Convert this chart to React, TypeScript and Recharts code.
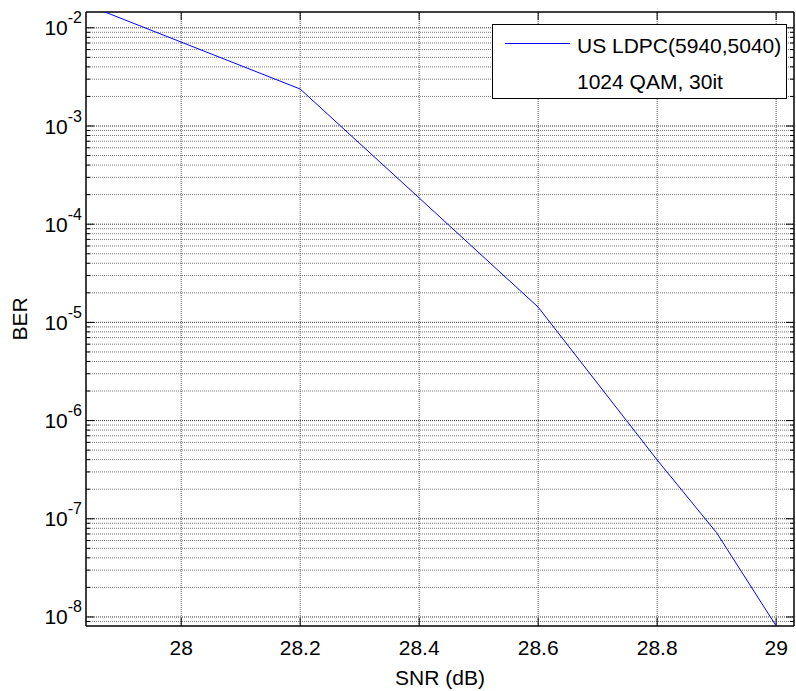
import React from "react";
import { LineChart, Line, XAxis, YAxis, ReferenceLine, Legend } from "recharts";

// BER curve, log scale
const snr = [27.8, 28.2, 28.4, 28.6, 28.8, 28.9, 29];
const ber = [2.15e-2, 2.38e-3, 1.85e-4, 1.43e-5, 3.97e-7, 7.2e-8, 8.1e-9];
const xTicks = [28, 28.2, 28.4, 28.6, 28.8, 29];
const decadeExps = [-8, -7, -6, -5, -4, -3, -2];
const minorMantissas = [2, 3, 4, 5, 6, 7, 8, 9];
const seriesName = "US LDPC(5940,5040)";
const seriesNote = "1024 QAM, 30it";
const LINE_COLOR = "#0000ff";

const FONT = '"Liberation Sans", Arial, Helvetica, sans-serif';
const W = 796;
const H = 691;
const MARGIN = { top: 12, right: 2, bottom: 0, left: 0 };
const Y_AXIS_W = 86;
const X_AXIS_H = 65;
const PLOT_W = W - MARGIN.right - Y_AXIS_W;
const PLOT_H = H - MARGIN.top - X_AXIS_H;

const X_DOMAIN: [number, number] = [27.84, 29.03];
const Y_DOMAIN: [number, number] = [8.09e-9, 1.449e-2];

const data = snr.map((s, i) => ({ snr: s, ber: ber[i] }));

const decades = decadeExps.map((e) => Math.pow(10, e));
const minors: number[] = [];
for (let e = -9; e <= -2; e++) {
  for (const m of minorMantissas) {
    const v = m * Math.pow(10, e);
    if (v > Y_DOMAIN[0] && v < Y_DOMAIN[1]) minors.push(v);
  }
}

// convert pixel lengths of the inward tick marks into data units
const xPerPx = (X_DOMAIN[1] - X_DOMAIN[0]) / PLOT_W;
const logPerPx = (Math.log10(Y_DOMAIN[1]) - Math.log10(Y_DOMAIN[0])) / PLOT_H;
const yShift = (v: number, px: number) => v * Math.pow(10, px * logPerPx);

const MAJOR_TICK = 8;
const MINOR_TICK = 4;

function PowerTick(props: any) {
  const { x, y, payload } = props;
  const exp = Math.round(Math.log10(payload.value));
  return (
    <text x={x} y={y + 7.5} textAnchor="end" fontFamily={FONT} fontSize={21} fill="#000">
      <tspan>10</tspan>
      <tspan dy={-12} fontSize={16}>{String(exp)}</tspan>
    </text>
  );
}

function LegendBox(props: any) {
  const item = props.payload && props.payload[0];
  const name = item ? item.value : seriesName;
  return (
    <svg width={296} height={76} style={{ display: "block" }}>
      <rect x={0.5} y={0.5} width={294} height={74} fill="#fff" stroke="#000" strokeWidth={1} />
      <line x1={13} y1={19.5} x2={78} y2={19.5} stroke={LINE_COLOR} strokeWidth={1} />
      <text x={85} y={29} fontFamily={FONT} fontSize={21} fill="#000">{name}</text>
      <text x={85} y={65} fontFamily={FONT} fontSize={21} fill="#000">{seriesNote}</text>
    </svg>
  );
}

export default function App() {
  const frame = { stroke: "#000", strokeWidth: 1.5 };
  const yTickMarks = [...decades.map((v) => [v, MAJOR_TICK]), ...minors.map((v) => [v, MINOR_TICK])];
  return (
    <div>
      <style>{"body{margin:0;background:#fff}"}</style>
      <LineChart width={W} height={H} data={data} margin={MARGIN}>
        <XAxis
          dataKey="snr"
          type="number"
          domain={X_DOMAIN}
          allowDataOverflow
          ticks={xTicks}
          tickFormatter={(v) => String(v)}
          height={X_AXIS_H}
          tickSize={0}
          tickLine={false}
          tickMargin={14}
          axisLine={frame}
          tick={{ fontFamily: FONT, fontSize: 21, fill: "#000" }}
          label={{
            content: (p: any) => {
              const vb = p.viewBox;
              return (
                <text x={vb.x + vb.width / 2} y={vb.y + 59} textAnchor="middle" fontFamily={FONT} fontSize={21} fill="#000">
                  SNR (dB)
                </text>
              );
            },
          }}
        />
        <YAxis
          type="number"
          scale="log"
          domain={Y_DOMAIN}
          allowDataOverflow
          ticks={decades}
          width={Y_AXIS_W}
          tickSize={0}
          tickLine={false}
          tickMargin={4}
          axisLine={frame}
          tick={<PowerTick />}
          label={{
            content: (p: any) => {
              const vb = p.viewBox;
              const cy = vb.y + vb.height / 2;
              return (
                <text
                  transform={`translate(${vb.x + 27}, ${cy}) rotate(-90)`}
                  textAnchor="middle"
                  fontFamily={FONT}
                  fontSize={21}
                  fill="#000"
                >
                  BER
                </text>
              );
            },
          }}
        />

        {/* dotted grid */}
        {minors.map((v) => (
          <ReferenceLine key={"gm" + v} y={v} stroke="#777" strokeDasharray="1 1" />
        ))}
        {decades.map((v) => (
          <ReferenceLine key={"gd" + v} y={v} stroke="#333" strokeDasharray="1 1" />
        ))}
        {xTicks.map((t) => (
          <ReferenceLine key={"gx" + t} x={t} stroke="#555" strokeDasharray="1 1" />
        ))}

        {/* top and right edges of the box */}
        <ReferenceLine y={Y_DOMAIN[1]} ifOverflow="visible" {...frame} />
        <ReferenceLine x={X_DOMAIN[1]} ifOverflow="visible" {...frame} />

        {/* inward tick marks on all four sides */}
        {xTicks.map((t) => (
          <ReferenceLine
            key={"tb" + t}
            ifOverflow="visible"
            stroke="#000"
            segment={[{ x: t, y: Y_DOMAIN[0] }, { x: t, y: yShift(Y_DOMAIN[0], MAJOR_TICK) }]}
          />
        ))}
        {xTicks.map((t) => (
          <ReferenceLine
            key={"tt" + t}
            ifOverflow="visible"
            stroke="#000"
            segment={[{ x: t, y: Y_DOMAIN[1] }, { x: t, y: yShift(Y_DOMAIN[1], -MAJOR_TICK) }]}
          />
        ))}
        {yTickMarks.map(([v, len]) => (
          <ReferenceLine
            key={"tl" + v}
            ifOverflow="visible"
            stroke="#000"
            segment={[{ x: X_DOMAIN[0], y: v }, { x: X_DOMAIN[0] + len * xPerPx, y: v }]}
          />
        ))}
        {yTickMarks.map(([v, len]) => (
          <ReferenceLine
            key={"tr" + v}
            ifOverflow="visible"
            stroke="#000"
            segment={[{ x: X_DOMAIN[1], y: v }, { x: X_DOMAIN[1] - len * xPerPx, y: v }]}
          />
        ))}

        <Line
          type="linear"
          dataKey="ber"
          name={seriesName}
          stroke={LINE_COLOR}
          strokeWidth={1}
          dot={false}
          isAnimationActive={false}
        />
        <Legend
          layout="horizontal"
          verticalAlign="middle"
          align="center"
          wrapperStyle={{ position: "absolute", left: 492, top: 24, width: 296, height: 76 }}
          content={<LegendBox />}
        />
      </LineChart>
    </div>
  );
}
